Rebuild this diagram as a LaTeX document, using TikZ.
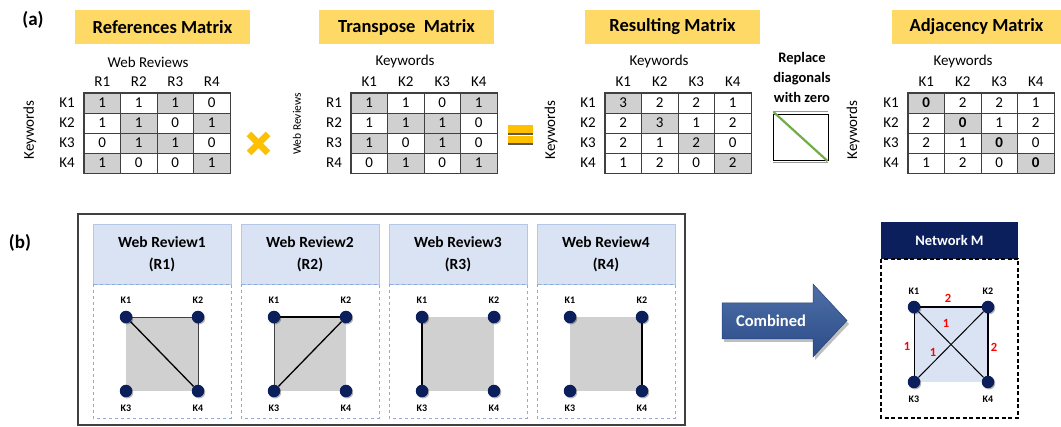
\documentclass[tikz,border=0pt]{standalone}
\usepackage{fontspec}
\setmainfont{Carlito}
\usetikzlibrary{shadows}
\pgfdeclarelayer{bg}
\pgfsetlayers{bg,main}
\definecolor{ybox}{HTML}{FFD966}
\definecolor{g}{HTML}{D0D0D0}
\definecolor{cellline}{HTML}{404040}
\definecolor{navy}{HTML}{0A1F5C}
\definecolor{hblue}{HTML}{DAE3F3}
\definecolor{hblueline}{HTML}{B4C7E7}
\definecolor{dashblue}{HTML}{8FAADC}
\definecolor{opsign}{HTML}{FFC000}
\definecolor{grn}{HTML}{70AD47}
\definecolor{arrowblue}{HTML}{2F5597}
\definecolor{sqgray}{HTML}{D0D0D0}
\definecolor{lightsq}{HTML}{DAE3F3}
\tikzset{
  ttl/.style={fill=ybox, minimum height=34pt, inner sep=0pt, font=\bfseries\fontsize{18.5}{21}\selectfont},
  cell/.style={draw=cellline, line width=0.6pt, minimum width=36.5pt, minimum height=20pt, inner sep=0pt, font=\fontsize{15}{17}\selectfont},
  lab/.style={inner sep=0pt, font=\fontsize{15}{17}\selectfont},
  slab/.style={inner sep=0pt, font=\fontsize{11.5}{13}\selectfont},
  kdot/.style={circle, fill=navy, minimum size=12.5pt, inner sep=0pt,
    drop shadow={opacity=0.3, shadow xshift=1pt, shadow yshift=-1.2pt, fill=black}},
  klab/.style={inner sep=0pt, font=\bfseries\fontsize{10}{11}\selectfont},
  phead/.style={fill=hblue, draw=hblueline, line width=0.8pt, inner sep=0pt, align=center,
    font=\bfseries\fontsize{15.5}{22}\selectfont},
  pbody/.style={draw=dashblue, dashed, line width=0.8pt},
  thickedge/.style={line width=1.3pt, black},
  thinedge/.style={line width=0.7pt, black!75},
  elab/.style={inner sep=0pt, text=red, font=\bfseries\fontsize{12.5}{14}\selectfont},
}
\newcommand\mkmat[6]{%
  \foreach \c in {1,2,3,4}
    \node[lab] (#1-c\c) at ({#2+(\c-0.5)*36.5},82) {#3\c};
  \foreach \r in {1,2,3,4}
    \node[lab] (#1-r\r) at ({#2-17},{93+(\r-0.5)*20}) {#4\r};
  \foreach [count=\r] \row in {#5} {
    \foreach [count=\c] \v/\s in \row {
      \node[cell, fill=\s] (#1-\r-\c) at ({#2+(\c-0.5)*36.5},{93+(\r-0.5)*20}) {\v};
    }
  }
  \draw[cellline, line width=1pt] (#1-1-1.north west) rectangle (#1-4-4.south east);
}
\newcommand\wrpanel[3]{%
  \node[phead, minimum width=138pt, minimum height=60pt] (#1h) at ({#2+69},254) {Web Review#3\\(R#3)};
  \draw[pbody] (#2,284) rectangle ({#2+138},418);
  \begin{pgfonlayer}{bg}
    \fill[sqgray] ({#2+33},317) rectangle ({#2+105},391);
  \end{pgfonlayer}
  \node[kdot] (#1k1) at ({#2+33},317) {};
  \node[kdot] (#1k2) at ({#2+105},317) {};
  \node[kdot] (#1k3) at ({#2+33},391) {};
  \node[kdot] (#1k4) at ({#2+105},391) {};
  \node[klab] (#1l1) at ({#2+33},300) {K1};
  \node[klab] (#1l2) at ({#2+105},300) {K2};
  \node[klab] (#1l3) at ({#2+33},408) {K3};
  \node[klab] (#1l4) at ({#2+105},408) {K4};
}
\begin{document}
\begin{tikzpicture}[x=1pt,y=-1pt]
\useasboundingbox (0,0) rectangle (1061,427);

% ---------- (a) ----------
\node[inner sep=0pt, font=\bfseries\fontsize{19}{21}\selectfont] (la) at (33,20) {(a)};

\node[ttl, minimum width=175pt] (t1) at (162.5,27) {References Matrix};
\node[ttl, minimum width=175pt] (t2) at (406.5,27) {Transpose\ \ Matrix};
\node[ttl, minimum width=175pt] (t3) at (672.5,27) {Resulting Matrix};
\node[ttl, minimum width=169pt] (t4) at (976.5,27) {Adjacency Matrix};

% References matrix
\node[lab] (m1top) at (148,62) {Web Reviews};
\node[lab, rotate=90] (m1side) at (30,130) {Keywords};
\mkmat{m1}{84}{R}{K}{{1/g,1/white,1/g,0/white},{1/white,1/g,0/white,1/g},{0/white,1/g,1/g,0/white},{1/g,0/white,0/white,1/g}}{}

% times sign
\draw[opsign, line width=6.5pt] (249,134) -- (268,153) (268,134) -- (249,153);

% Transpose matrix
\node[lab] (m2top) at (405,62) {Keywords};
\node[slab, rotate=90] (m2side) at (297,124) {Web Reviews};
\mkmat{m2}{351}{K}{R}{{1/g,1/white,0/white,1/g},{1/white,1/g,1/g,0/white},{1/g,0/white,1/g,0/white},{0/white,1/g,0/white,1/g}}{}

% equals sign
\fill[opsign] (508,125) rectangle (533,133);
\fill[black!65] (508,133) rectangle (533,134.6);
\fill[opsign] (508,136.5) rectangle (533,143.5);
\fill[black!65] (508,143.5) rectangle (533,145.2);

% Resulting matrix
\node[lab] (m3top) at (659,62) {Keywords};
\node[lab, rotate=90] (m3side) at (551,130) {Keywords};
\mkmat{m3}{605}{K}{K}{{3/g,2/white,2/white,1/white},{2/white,3/g,1/white,2/white},{2/white,1/white,2/g,0/white},{1/white,2/white,0/white,2/g}}{}

% Replace diagonals
\node[inner sep=0pt, align=center, font=\bfseries\fontsize{14.5}{20}\selectfont] (rep) at (802,77) {Replace\\diagonals\\with zero};
\draw[black!40, line width=1.5pt] (773,111.5) -- (828,111.5) (773,162.5) -- (828,162.5);
\draw[black, line width=0.8pt] (773,114) rectangle (828,160);
\coordinate (dA) at (773.5,112);
\coordinate (dB) at (827.5,161);
\draw[grn, line width=2.2pt] (dA) -- (dB);

% Adjacency matrix
\node[lab] (m4top) at (963,62) {Keywords};
\node[lab, rotate=90] (m4side) at (853,130) {Keywords};
\mkmat{m4}{908}{K}{K}{{\textbf{0}/g,2/white,2/white,1/white},{2/white,\textbf{0}/g,1/white,2/white},{2/white,1/white,\textbf{0}/g,0/white},{1/white,2/white,0/white,\textbf{0}/g}}{}

% ---------- (b) ----------
\node[inner sep=0pt, font=\bfseries\fontsize{19}{21}\selectfont] (lb) at (20,243) {(b)};
\draw[cellline, line width=1.2pt] (78,214) rectangle (685,425);

\wrpanel{pa}{93}{1}
\wrpanel{pb}{241}{2}
\wrpanel{pc}{389}{3}
\wrpanel{pd}{537}{4}

\begin{pgfonlayer}{bg}
  \draw[thinedge] (pak1) -- (pak2);
  \draw[thinedge] (pak2) -- (pak4);
  \draw[thickedge] (pak1) -- (pak4);
  \draw[thickedge] (pbk1) -- (pbk2);
  \draw[thickedge] (pbk2) -- (pbk3);
  \draw[thinedge] (pbk1) -- (pbk3);
  \draw[thickedge] (pck1) -- (pck3);
  \draw[thickedge] (pdk2) -- (pdk4);
\end{pgfonlayer}

% Combined arrow
\fill[black, opacity=0.25] (724,306) -- (815,306) -- (815,287) -- (849,324) -- (815,360) -- (815,342) -- (724,342) -- cycle;
\shade[top color=arrowblue!85!white, bottom color=arrowblue!90!black, draw=arrowblue!80!black, line width=0.5pt]
  (722,303) -- (813,303) -- (813,284) -- (847,320.5) -- (813,357) -- (813,339) -- (722,339) -- cycle;
\node[inner sep=0pt, text=white, font=\bfseries\fontsize{16.5}{18}\selectfont] (comb) at (771,321) {Combined};

% Network M
\node[fill=navy, minimum width=137pt, minimum height=37pt, inner sep=0pt, text=white,
  font=\bfseries\fontsize{14.5}{16}\selectfont] (nmh) at (949.5,240.5) {Network M};
\draw[black, dash pattern=on 4pt off 2.5pt, line width=1.2pt] (881,259) rectangle (1018,418);
\begin{pgfonlayer}{bg}
  \fill[lightsq] (914,307) rectangle (988,382);
\end{pgfonlayer}
\node[kdot] (nk1) at (914,307) {};
\node[kdot] (nk2) at (988,307) {};
\node[kdot] (nk3) at (914,382) {};
\node[kdot] (nk4) at (988,382) {};
\node[klab] (nl1) at (914,291) {K1};
\node[klab] (nl2) at (988,291) {K2};
\node[klab] (nl3) at (914,399) {K3};
\node[klab] (nl4) at (988,399) {K4};
\begin{pgfonlayer}{bg}
  \draw[thickedge, line width=1.6pt] (nk1) -- (nk2);
  \draw[thickedge, line width=1.8pt] (nk2) -- (nk4);
  \draw[thickedge, line width=1pt] (nk1) -- (nk3);
  \draw[thickedge, line width=1pt] (nk1) -- (nk4);
  \draw[thickedge, line width=1pt] (nk2) -- (nk3);
\end{pgfonlayer}
\node[elab] (e12) at (948,298) {2};
\node[elab] (e14) at (946,323) {1};
\node[elab] (e13) at (907,346) {1};
\node[elab] (e23) at (933,352) {1};
\node[elab] (e24) at (994,347) {2};
\end{tikzpicture}
\end{document}
